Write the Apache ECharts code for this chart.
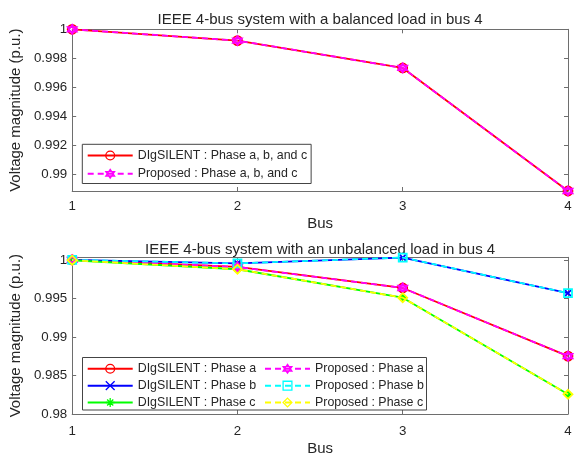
<!DOCTYPE html>
<html><head><meta charset="utf-8">
<script src="https://cdn.jsdelivr.net/npm/echarts@6/dist/echarts.min.js"></script>
<style>html,body{margin:0;padding:0;background:#fff}#c{width:578px;height:457px}</style>
</head><body><div id="c"></div>
<script>
// ---- data ----
const buses = ['1', '2', '3', '4'];
const topTitle = 'IEEE 4-bus system with a balanced load in bus 4';
const botTitle = 'IEEE 4-bus system with an unbalanced load in bus 4';
const topDig = [1.0, 0.99922, 0.99733, 0.98883];
const topProp = [1.0, 0.99922, 0.99733, 0.98883];
const botDigA = [1.0, 0.99908, 0.99635, 0.98751];
const botDigB = [1.0, 0.99954, 1.00030, 0.99568];
const botDigC = [0.99995, 0.99878, 0.99509, 0.98256];
const botPropA = [1.0, 0.99908, 0.99635, 0.98751];
const botPropB = [1.0, 0.99954, 1.00030, 0.99568];
const botPropC = [0.99995, 0.99878, 0.99509, 0.98256];
const topYTicks = [0.99, 0.992, 0.994, 0.996, 0.998, 1];
const botYTicks = [0.98, 0.985, 0.99, 0.995, 1];
const topYRange = [0.98883, 1.0];
const botYRange = [0.98, 1.00033];

// ---- markers ----
const SYM = {
  circle: 'path://M10,5A5,5,0,1,1,0,5A5,5,0,1,1,10,5Z',
  hexagram: 'path://M5,0L9.33,7.5L0.67,7.5ZM5,10L0.67,2.5L9.33,2.5Z',
  x: 'path://M0,0L10,10M10,0L0,10',
  asterisk: 'path://M5,0L5,10M0,5L10,5M1.5,1.5L8.5,8.5M8.5,1.5L1.5,8.5',
  square: 'path://M0,0L10,0L10,10L0,10Z',
  diamond: 'path://M5,0L10,5L5,10L0,5Z'
};

const FONT = 'Liberation Sans, Arial, sans-serif';
const TXT = '#262626';
const AX = '#6e6e6e';
const CLEAR = 'rgba(0,0,0,0)';

function mk(name, data, color, sym, dashed, gi, size) {
  return {
    type: 'line', name: name, data: data,
    xAxisIndex: gi * 2, yAxisIndex: gi * 2,
    symbol: sym, symbolSize: size || 8, clip: false,
    showAllSymbol: true,
    lineStyle: { color: color, width: 1.8, type: dashed ? [6, 4] : 'solid' },
    itemStyle: { color: CLEAR, borderColor: color, borderWidth: 1.8 },
    emphasis: { disabled: true },
    z: dashed ? 3 : 2
  };
}

function yAx(gi, range, ticks, right) {
  return {
    type: 'value', gridIndex: gi, min: range[0], max: range[1],
    position: right ? 'right' : 'left',
    splitLine: { show: false },
    axisLine: { show: true, lineStyle: { color: AX, width: 1 } },
    axisTick: { show: true, inside: true, length: 4, customValues: ticks, lineStyle: { color: AX } },
    axisLabel: {
      show: !right, customValues: ticks, margin: 5, color: TXT, fontSize: 13.3, fontFamily: FONT,
      formatter: function (v) { return String(+(+v).toFixed(4)); }
    },
    name: right ? '' : 'Voltage magnitude (p.u.)',
    nameLocation: 'middle', nameGap: 45, nameRotate: 90,
    nameTextStyle: { color: TXT, fontSize: 15, fontFamily: FONT }
  };
}

function xAx(gi, top, title, gap) {
  return {
    type: 'category', gridIndex: gi, data: buses, boundaryGap: false,
    position: top ? 'top' : 'bottom',
    splitLine: { show: false },
    axisLine: { show: true, lineStyle: { color: AX, width: 1 } },
    axisTick: { show: true, inside: true, length: 4, lineStyle: { color: AX } },
    axisLabel: { show: !top, margin: gi === 0 ? 8.5 : 10.5, color: TXT, fontSize: 13.3, fontFamily: FONT },
    name: top ? title : 'Bus',
    nameLocation: 'middle', nameGap: gap,
    nameTextStyle: { color: TXT, fontSize: 15, fontFamily: FONT }
  };
}

const legendText = { color: TXT, fontSize: 12.4, fontFamily: FONT, lineHeight: 11 };
const legendItem = { color: CLEAR, borderWidth: 1.3 };

const option = {
  animation: false,
  backgroundColor: '#fff',
  textStyle: { fontFamily: FONT },
  grid: [
    { left: 70, top: 29.3, width: 498, height: 161.7 },
    { left: 70, top: 257.3, width: 498, height: 161.3 }
  ],
  xAxis: [
    xAx(0, false, '', 25), xAx(0, true, topTitle, 1.5),
    xAx(1, false, '', 27), xAx(1, true, botTitle, 0)
  ],
  yAxis: [
    yAx(0, topYRange, topYTicks, false), yAx(0, topYRange, topYTicks, true),
    yAx(1, botYRange, botYTicks, false), yAx(1, botYRange, botYTicks, true)
  ],
  legend: [
    {
      left: 82.3, top: 144.3, orient: 'vertical', padding: [5.2, 4, 3.7, 4.4],
      itemWidth: 45, itemHeight: 11, itemGap: 6.3, borderColor: '#444', borderWidth: 1,
      selectedMode: false, textStyle: legendText, itemStyle: legendItem,
      data: ['DIgSILENT : Phase a, b, and c', 'Proposed : Phase a, b, and c']
    },
    {
      left: 86.7, top: 362.8, orient: 'vertical', padding: 0,
      itemWidth: 45, itemHeight: 11, itemGap: 4.85, selectedMode: false,
      textStyle: legendText, itemStyle: legendItem,
      data: ['DIgSILENT : Phase a', 'DIgSILENT : Phase b', 'DIgSILENT : Phase c']
    },
    {
      left: 264, top: 362.8, orient: 'vertical', padding: 0,
      itemWidth: 45, itemHeight: 11, itemGap: 4.85, selectedMode: false,
      textStyle: legendText, itemStyle: legendItem,
      data: ['Proposed : Phase a', 'Proposed : Phase b', 'Proposed : Phase c']
    }
  ],
  graphic: [
    { type: 'rect', shape: { x: 82.5, y: 357.5, width: 344, height: 52.5 },
      style: { fill: 'none', stroke: '#444', lineWidth: 1 }, silent: true, z: 100 }
  ],
  series: [
    mk('DIgSILENT : Phase a, b, and c', topDig, '#ff0000', SYM.circle, false, 0, 9),
    mk('Proposed : Phase a, b, and c', topProp, '#ff00ff', SYM.hexagram, true, 0, 9),
    mk('DIgSILENT : Phase a', botDigA, '#ff0000', SYM.circle, false, 1, 9),
    mk('DIgSILENT : Phase b', botDigB, '#0000ff', SYM.x, false, 1, 6),
    mk('DIgSILENT : Phase c', botDigC, '#00ff00', SYM.asterisk, false, 1, 7),
    mk('Proposed : Phase a', botPropA, '#ff00ff', SYM.hexagram, true, 1, 9),
    mk('Proposed : Phase b', botPropB, '#00ffff', SYM.square, true, 1, 8),
    mk('Proposed : Phase c', botPropC, '#ffff00', SYM.diamond, true, 1, 9)
  ]
};

const chart = echarts.init(document.getElementById('c'), null, { renderer: 'canvas' });
chart.setOption(option);
</script></body></html>
